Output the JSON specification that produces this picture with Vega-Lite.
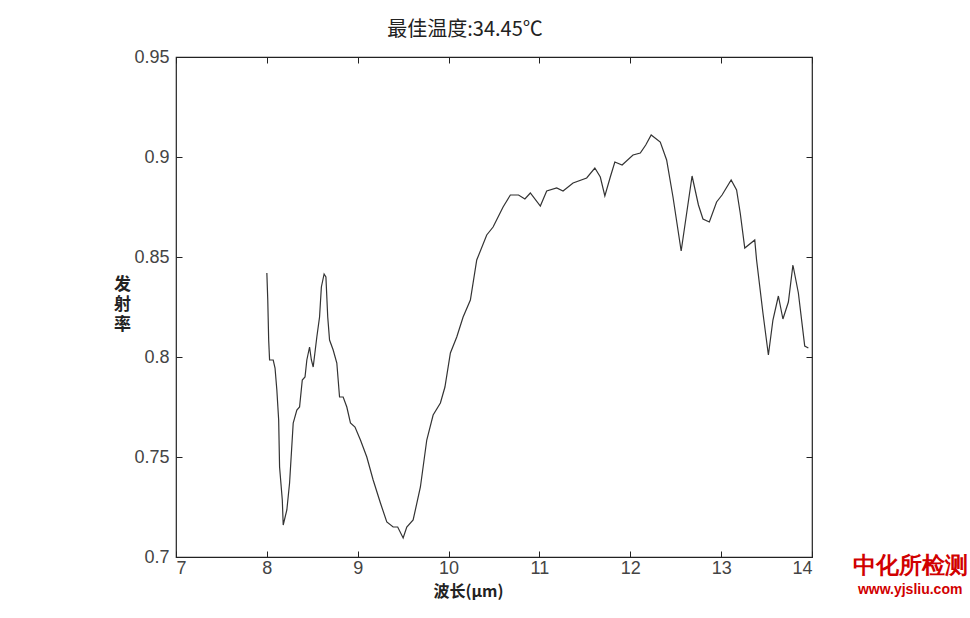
{
  "$schema": "https://vega.github.io/schema/vega-lite/v6.json",
  "autosize": "none",
  "width": 636,
  "height": 500,
  "padding": {"left": 176, "top": 57, "right": 158, "bottom": 61},
  "background": "white",
  "title": {"text": "最佳温度:34.45℃", "font": "Noto Sans CJK SC", "fontSize": 20, "fontWeight": "normal", "color": "#222", "dx": -29, "offset": 8},
  "config": {"view": {"stroke": "#222", "strokeWidth": 1.2}},
  "datasets": {
    "curve": [
      {"w": 8.0, "e": 0.842}, {"w": 8.01, "e": 0.8285}, {"w": 8.02, "e": 0.8085}, {"w": 8.03, "e": 0.7985},
      {"w": 8.07, "e": 0.7985}, {"w": 8.09, "e": 0.7945}, {"w": 8.11, "e": 0.7835}, {"w": 8.13, "e": 0.7685},
      {"w": 8.14, "e": 0.745}, {"w": 8.17, "e": 0.7285}, {"w": 8.18, "e": 0.716}, {"w": 8.22, "e": 0.7235},
      {"w": 8.25, "e": 0.737}, {"w": 8.29, "e": 0.767}, {"w": 8.33, "e": 0.7735}, {"w": 8.36, "e": 0.775},
      {"w": 8.39, "e": 0.7885}, {"w": 8.42, "e": 0.79}, {"w": 8.44, "e": 0.7985}, {"w": 8.47, "e": 0.805},
      {"w": 8.49, "e": 0.7985}, {"w": 8.51, "e": 0.795}, {"w": 8.55, "e": 0.81}, {"w": 8.58, "e": 0.82},
      {"w": 8.6, "e": 0.835}, {"w": 8.63, "e": 0.8415}, {"w": 8.65, "e": 0.84}, {"w": 8.67, "e": 0.82},
      {"w": 8.69, "e": 0.8085}, {"w": 8.73, "e": 0.8035}, {"w": 8.77, "e": 0.797}, {"w": 8.8, "e": 0.78},
      {"w": 8.84, "e": 0.78}, {"w": 8.88, "e": 0.775}, {"w": 8.92, "e": 0.767}, {"w": 8.97, "e": 0.765},
      {"w": 9.03, "e": 0.7585}, {"w": 9.1, "e": 0.75}, {"w": 9.17, "e": 0.7385}, {"w": 9.25, "e": 0.727},
      {"w": 9.32, "e": 0.7175}, {"w": 9.39, "e": 0.715}, {"w": 9.44, "e": 0.715}, {"w": 9.5, "e": 0.7095},
      {"w": 9.54, "e": 0.715}, {"w": 9.61, "e": 0.7185}, {"w": 9.69, "e": 0.735}, {"w": 9.76, "e": 0.7585},
      {"w": 9.83, "e": 0.771}, {"w": 9.91, "e": 0.777}, {"w": 9.96, "e": 0.785}, {"w": 10.02, "e": 0.802},
      {"w": 10.09, "e": 0.81}, {"w": 10.16, "e": 0.82}, {"w": 10.24, "e": 0.8285}, {"w": 10.31, "e": 0.8485},
      {"w": 10.42, "e": 0.861}, {"w": 10.49, "e": 0.865}, {"w": 10.6, "e": 0.875}, {"w": 10.68, "e": 0.881},
      {"w": 10.77, "e": 0.881}, {"w": 10.84, "e": 0.879}, {"w": 10.9, "e": 0.882}, {"w": 11.01, "e": 0.8755},
      {"w": 11.08, "e": 0.883}, {"w": 11.19, "e": 0.8845}, {"w": 11.26, "e": 0.883}, {"w": 11.37, "e": 0.887},
      {"w": 11.52, "e": 0.8895}, {"w": 11.61, "e": 0.8945}, {"w": 11.67, "e": 0.89}, {"w": 11.72, "e": 0.8805},
      {"w": 11.78, "e": 0.89}, {"w": 11.83, "e": 0.8975}, {"w": 11.91, "e": 0.896}, {"w": 12.03, "e": 0.901},
      {"w": 12.11, "e": 0.902}, {"w": 12.17, "e": 0.906}, {"w": 12.23, "e": 0.911}, {"w": 12.33, "e": 0.9075},
      {"w": 12.4, "e": 0.8985}, {"w": 12.47, "e": 0.88}, {"w": 12.56, "e": 0.853}, {"w": 12.68, "e": 0.8905},
      {"w": 12.75, "e": 0.876}, {"w": 12.8, "e": 0.869}, {"w": 12.87, "e": 0.8675}, {"w": 12.95, "e": 0.8775},
      {"w": 13.01, "e": 0.881}, {"w": 13.11, "e": 0.8885}, {"w": 13.17, "e": 0.8835}, {"w": 13.21, "e": 0.872},
      {"w": 13.26, "e": 0.8545}, {"w": 13.37, "e": 0.8585}, {"w": 13.39, "e": 0.8485}, {"w": 13.46, "e": 0.822},
      {"w": 13.52, "e": 0.801}, {"w": 13.57, "e": 0.8185}, {"w": 13.63, "e": 0.8305}, {"w": 13.68, "e": 0.819},
      {"w": 13.74, "e": 0.8275}, {"w": 13.79, "e": 0.846}, {"w": 13.85, "e": 0.832}, {"w": 13.92, "e": 0.8055},
      {"w": 13.96, "e": 0.8045}
    ],
    "mark": [
      {"w": 15.08, "e": 0.6955, "label": "中化所检测", "kind": "cn"},
      {"w": 15.08, "e": 0.6835, "label": "www.yjsliu.com", "kind": "url"}
    ]
  },
  "layer": [
    {
      "data": {"name": "curve"},
      "mark": {"type": "line", "color": "#333", "strokeWidth": 1.2},
      "encoding": {
        "x": {"field": "w", "type": "quantitative", "scale": {"domain": [7, 14], "nice": false, "zero": false},
          "axis": {"values": [7, 8, 9, 10, 11, 12, 13, 14], "format": "~g", "grid": false, "domain": false,
            "tickSize": -6, "tickColor": "#222", "labelPadding": 8, "labelFont": "Liberation Sans", "labelFontSize": 18, "labelColor": "#444",
            "title": "波长(μm)", "titleFont": "Noto Sans CJK SC", "titleFontSize": 16, "titleFontWeight": "bold", "titleColor": "#222",
            "titleX": 292, "titlePadding": 6}},
        "y": {"field": "e", "type": "quantitative", "scale": {"domain": [0.7, 0.95], "nice": false, "zero": false},
          "axis": {"values": [0.7, 0.75, 0.8, 0.85, 0.9, 0.95], "format": "~g", "grid": false, "domain": false,
            "tickSize": -6, "tickColor": "#222", "labelPadding": 13, "labelFont": "Liberation Sans", "labelFontSize": 18, "labelColor": "#444",
            "title": ["发", "射", "率"], "titleAngle": 0, "titleAlign": "center", "titleBaseline": "top", "titleX": -54, "titleY": 219,
            "titleFont": "Noto Sans CJK SC", "titleFontSize": 17, "titleFontWeight": "bold", "titleColor": "#222", "titleLineHeight": 20}}
      }
    },
    {
      "data": {"name": "curve"},
      "mark": {"type": "line", "opacity": 0},
      "encoding": {
        "x": {"field": "w", "type": "quantitative", "axis": {"orient": "top", "values": [7, 8, 9, 10, 11, 12, 13, 14], "labels": false, "grid": false, "domain": false, "tickSize": -6, "tickColor": "#222", "title": null}},
        "y": {"field": "e", "type": "quantitative", "axis": {"orient": "right", "values": [0.7, 0.75, 0.8, 0.85, 0.9, 0.95], "labels": false, "grid": false, "domain": false, "tickSize": -6, "tickColor": "#222", "title": null}}
      }
    },
    {
      "data": {"name": "mark"},
      "mark": {"type": "text", "clip": false, "align": "center", "baseline": "middle", "color": "#d10000", "fontWeight": "bold"},
      "encoding": {
        "x": {"field": "w", "type": "quantitative", "axis": null},
        "y": {"field": "e", "type": "quantitative", "axis": null},
        "text": {"field": "label"},
        "size": {"field": "kind", "type": "nominal", "scale": {"domain": ["cn", "url"], "range": [23, 14]}, "legend": null},
        "font": {"field": "kind", "type": "nominal", "scale": {"domain": ["cn", "url"], "range": ["Noto Sans CJK SC", "Liberation Serif"]}, "legend": null}
      }
    }
  ],
  "resolve": {"axis": {"x": "independent", "y": "independent"}}
}
